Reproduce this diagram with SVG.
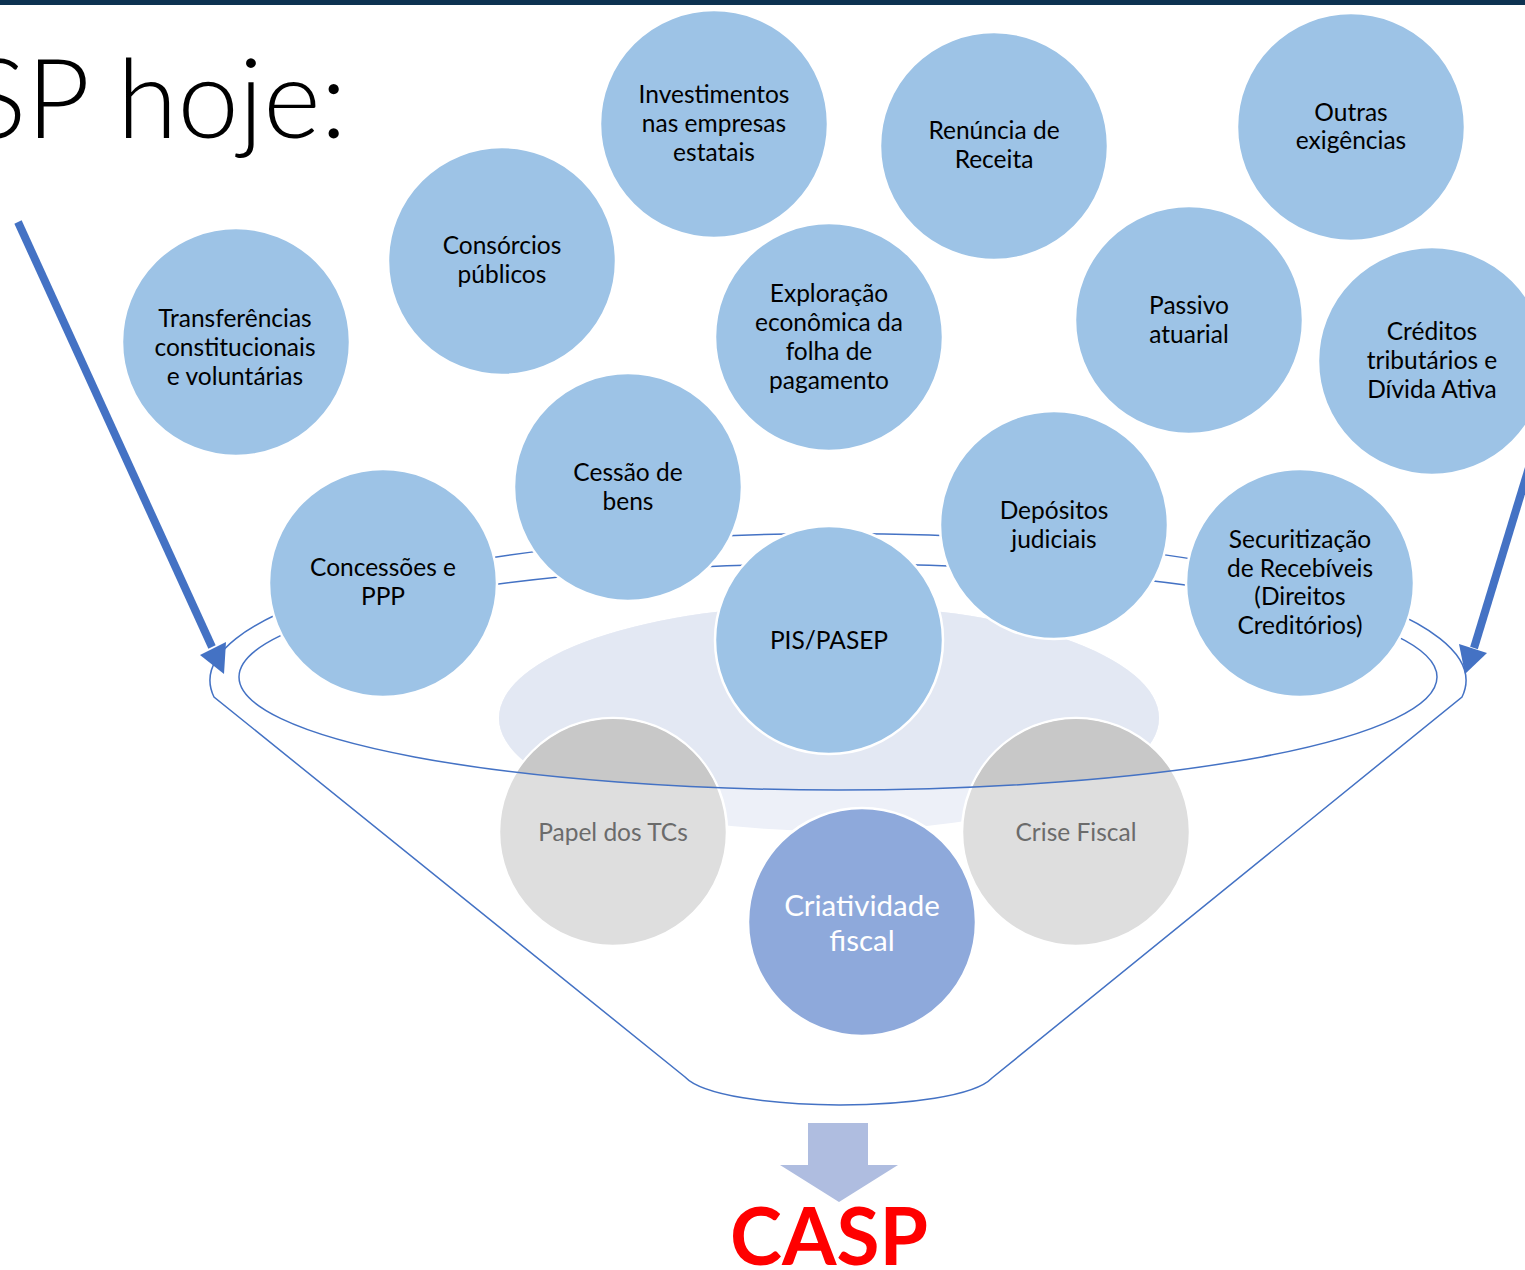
<svg xmlns="http://www.w3.org/2000/svg" width="1525" height="1270" viewBox="0 0 1525 1270">
<defs>
<style>
.c{fill:#9DC3E6;stroke:#FFFFFF;stroke-width:2.5}
.g{stroke:#FFFFFF;stroke-width:2.5}
.t{font-family:Lato,"Liberation Sans",sans-serif;font-size:24.5px;fill:#000;text-anchor:middle}
.tg{font-family:Lato,"Liberation Sans",sans-serif;font-size:24.5px;fill:#6B6B6B;text-anchor:middle}
.tw{font-family:Lato,"Liberation Sans",sans-serif;font-size:29.5px;fill:#FFFFFF;text-anchor:middle}
.ln{fill:none;stroke:#4472C4;stroke-width:1.5}
.ar{stroke:#4472C4;stroke-width:8;fill:none}
</style>
<clipPath id="inner"><ellipse cx="838" cy="677" rx="599" ry="113"/></clipPath>
</defs>
<rect x="0" y="0" width="1525" height="1270" fill="#FFFFFF"/>
<rect x="0" y="0" width="1525" height="5" fill="#0D3251"/>
<text x="347" y="138" font-family="Lato,'Liberation Sans',sans-serif" font-weight="300" font-size="110" text-anchor="end" fill="#000">SP hoje:</text>

<g id="background">
<ellipse cx="829" cy="718" rx="330" ry="113" fill="#EDF0F8"/>
<ellipse cx="829" cy="718" rx="330" ry="113" fill="#E3E8F3" clip-path="url(#inner)"/>
</g>

<g id="node-papel">
<circle cx="613" cy="832" r="114" fill="#DEDEDE" class="g"/>
<circle cx="613" cy="832" r="113" fill="#C8C8C8" clip-path="url(#inner)"/>
<text class="tg" x="613" y="841">Papel dos TCs</text>
</g>
<g id="node-crise">
<circle cx="1076" cy="832" r="114" fill="#DEDEDE" class="g"/>
<circle cx="1076" cy="832" r="113" fill="#C8C8C8" clip-path="url(#inner)"/>
<text class="tg" x="1076" y="841">Crise Fiscal</text>
</g>

<g id="connectors">
<path class="ln" d="M214,697 A628,147 0 1 1 1462,697 L992,1078 C958,1114 720,1114 685,1077 Z"/>
<ellipse class="ln" cx="838" cy="677" rx="599" ry="113"/>
<line class="ar" x1="18" y1="222" x2="212" y2="647"/>
<polygon points="224,674 200,655 226,642" fill="#4472C4"/>
<line class="ar" x1="1545" y1="415" x2="1474" y2="648"/>
<polygon points="1465,674 1459,644 1487,653" fill="#4472C4"/>
<polygon points="808,1123 868,1123 868,1165 898,1165 839,1202 780,1165 808,1165" fill="#AFBDE0"/>
</g>

<g id="node-investimentos">
<circle class="c" cx="714" cy="124" r="114"/>
<text class="t" x="714" y="103">Investimentos</text>
<text class="t" x="714" y="132">nas empresas</text>
<text class="t" x="714" y="161">estatais</text>
</g>
<g id="node-renuncia">
<circle class="c" cx="994" cy="146" r="114"/>
<text class="t" x="994" y="139">Renúncia de</text>
<text class="t" x="994" y="168">Receita</text>
</g>
<g id="node-outras">
<circle class="c" cx="1351" cy="127" r="114"/>
<text class="t" x="1351" y="121">Outras</text>
<text class="t" x="1351" y="149">exigências</text>
</g>
<g id="node-consorcios">
<circle class="c" cx="502" cy="261" r="114"/>
<text class="t" x="502" y="254">Consórcios</text>
<text class="t" x="502" y="283">públicos</text>
</g>
<g id="node-transferencias">
<circle class="c" cx="236" cy="342" r="114"/>
<text class="t" x="235" y="327">Transferências</text>
<text class="t" x="235" y="356">constitucionais</text>
<text class="t" x="235" y="385">e voluntárias</text>
</g>
<g id="node-exploracao">
<circle class="c" cx="829" cy="337" r="114"/>
<text class="t" x="829" y="302">Exploração</text>
<text class="t" x="829" y="331">econômica da</text>
<text class="t" x="829" y="360">folha de</text>
<text class="t" x="829" y="389">pagamento</text>
</g>
<g id="node-passivo">
<circle class="c" cx="1189" cy="320" r="114"/>
<text class="t" x="1189" y="314">Passivo</text>
<text class="t" x="1189" y="343">atuarial</text>
</g>
<g id="node-creditos">
<circle class="c" cx="1432" cy="361" r="114"/>
<text class="t" x="1432" y="340">Créditos</text>
<text class="t" x="1432" y="369">tributários e</text>
<text class="t" x="1432" y="398">Dívida Ativa</text>
</g>
<g id="node-cessao">
<circle class="c" cx="628" cy="487" r="114"/>
<text class="t" x="628" y="481">Cessão de</text>
<text class="t" x="628" y="510">bens</text>
</g>
<g id="node-depositos">
<circle class="c" cx="1054" cy="525" r="114"/>
<text class="t" x="1054" y="519">Depósitos</text>
<text class="t" x="1054" y="548">judiciais</text>
</g>
<g id="node-concessoes">
<circle class="c" cx="383" cy="583" r="114"/>
<text class="t" x="383" y="576">Concessões e</text>
<text class="t" x="383" y="605">PPP</text>
</g>
<g id="node-securitizacao">
<circle class="c" cx="1300" cy="583" r="114"/>
<text class="t" x="1300" y="548">Securitização</text>
<text class="t" x="1300" y="577">de Recebíveis</text>
<text class="t" x="1300" y="605">(Direitos</text>
<text class="t" x="1300" y="634">Creditórios)</text>
</g>
<g id="node-pis">
<circle class="c" cx="829" cy="640" r="114"/>
<text class="t" x="829" y="649">PIS/PASEP</text>
</g>
<g id="node-criatividade">
<circle cx="862" cy="922" r="114" fill="#8EA9DB" class="g"/>
<text class="tw" x="862" y="916">Criatividade</text>
<text class="tw" x="862" y="951">fiscal</text>
</g>

<text x="829" y="1265" font-family="Lato,'Liberation Sans',sans-serif" font-weight="700" font-size="80" fill="#FF0000" text-anchor="middle" textLength="198" lengthAdjust="spacingAndGlyphs">CASP</text>
</svg>
